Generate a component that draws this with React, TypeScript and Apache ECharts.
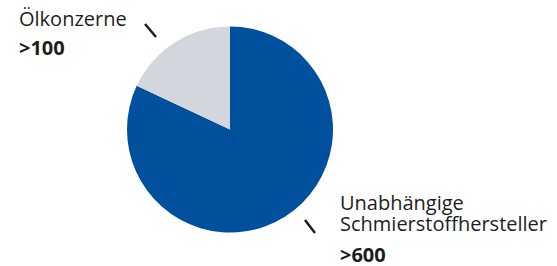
import React, { useEffect, useRef } from "react";
import * as echarts from "echarts";

const categories = ["Unabhängige Schmierstoffhersteller", "Ölkonzerne"];
const nameLines = [["Unabhängige", "Schmierstoffhersteller"], ["Ölkonzerne"]];
const values = [600, 132];
const valueLabels = [">600", ">100"];
const colors = ["#00509E", "#D3D7DD"];

export default function App() {
  const ref = useRef<HTMLDivElement>(null);
  useEffect(() => {
    if (!ref.current) return;
    const chart = echarts.init(ref.current, null, { renderer: "svg" });
    const font = "'Open Sans', sans-serif";
    const textColor = "#1d1d1b";
    const rightLines = nameLines[0].map((t, i) => ({
      type: "text",
      left: 340,
      top: 192 + i * 21,
      style: { text: t, font: `20px ${font}`, fill: textColor },
    }));
    chart.setOption({
      animation: false,
      series: [
        {
          type: "pie",
          center: [230, 129.5],
          radius: [0, 103],
          startAngle: 90,
          clockwise: true,
          label: { show: false },
          labelLine: { show: false },
          emphasis: { disabled: true },
          data: categories.map((c, i) => ({
            name: c,
            value: values[i],
            itemStyle: { color: colors[i] },
          })),
        },
      ],
      graphic: [
        {
          type: "text",
          left: 19,
          top: 8,
          style: {
            text: nameLines[1].join("\n"),
            font: `20px ${font}`,
            fill: textColor,
          },
        },
        {
          type: "text",
          left: 19,
          top: 37,
          style: {
            text: valueLabels[1],
            font: `bold 20px ${font}`,
            fill: textColor,
          },
        },
        {
          type: "line",
          shape: { x1: 145, y1: 24, x2: 156, y2: 37 },
          style: { stroke: "#1d1d1b", lineWidth: 2.5 },
        },
        ...rightLines,
        {
          type: "text",
          left: 340,
          top: 244,
          style: {
            text: valueLabels[0],
            font: `bold 20px ${font}`,
            fill: textColor,
          },
        },
        {
          type: "line",
          shape: { x1: 305, y1: 220, x2: 315, y2: 233 },
          style: { stroke: "#1d1d1b", lineWidth: 2.5 },
        },
      ],
    });
    return () => chart.dispose();
  }, []);
  return (
    <div
      ref={ref}
      style={{ position: "fixed", left: 0, top: 0, width: 557, height: 266, background: "#fff" }}
    />
  );
}
